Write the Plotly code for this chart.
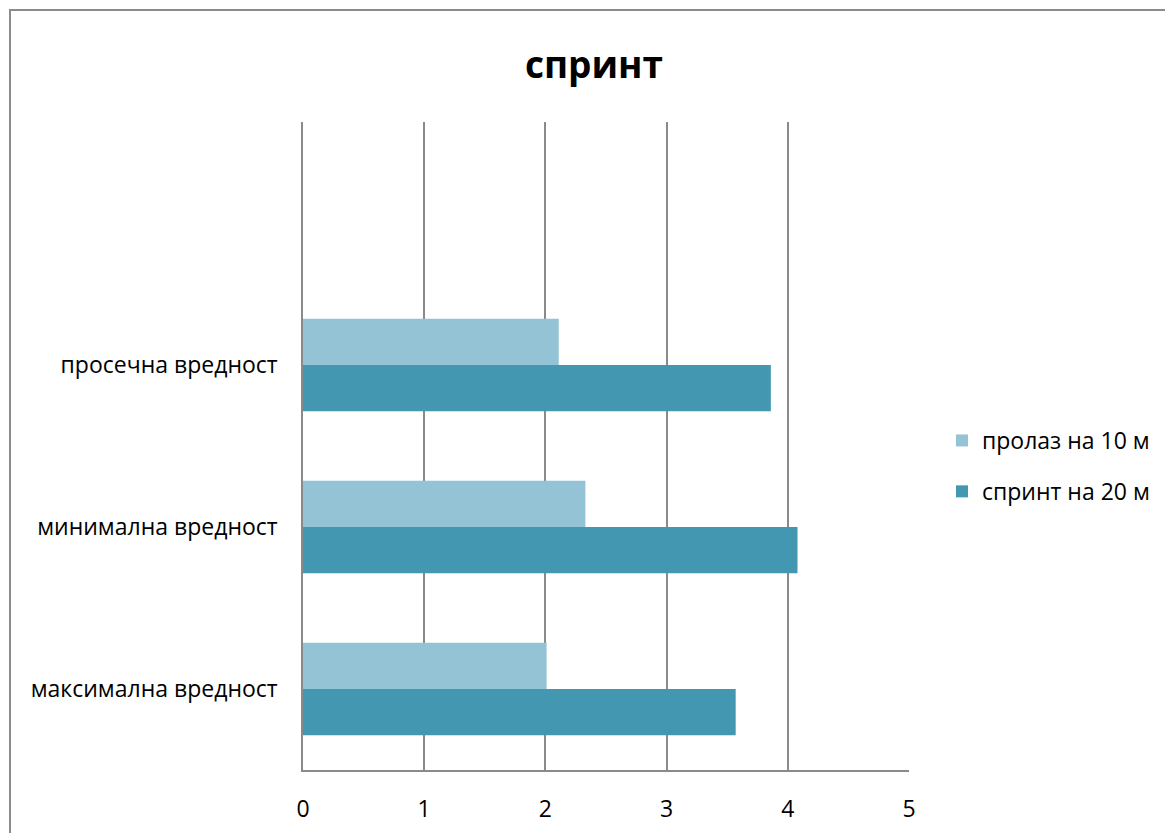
import plotly.graph_objects as go

# Sprint test results (seconds)
categories = ["максимална вредност", "минимална вредност", "просечна вредност"]
split_10m = [2.01, 2.33, 2.11]
sprint_20m = [3.57, 4.08, 3.86]
series_names = ["пролаз на 10 м", "спринт на 20 м"]
x_ticks = [0, 1, 2, 3, 4, 5]

light = "#93C3D5"
dark = "#4397B0"
grid = "#8a8a8a"
font_family = "Open Sans, Liberation Sans, sans-serif"
fs = 23

fig = go.Figure()
# Dark series first so it sits below the light one inside each group
fig.add_trace(go.Bar(
    y=categories, x=sprint_20m, name=series_names[1], orientation="h",
    marker=dict(color=dark, line=dict(width=0)), legendrank=2, legendgroup="b",
))
fig.add_trace(go.Bar(
    y=categories, x=split_10m, name=series_names[0], orientation="h",
    marker=dict(color=light, line=dict(width=0)), legendrank=1, legendgroup="a",
))

W, H = 1165, 833
L, R, T, B = 303, 256, 122, 63
pw, ph = W - L - R, H - T - B


def px(xp):
    return (xp - L) / pw


def py(yp):
    return (H - B - yp) / ph


fig.update_layout(
    width=W, height=H,
    margin=dict(l=L, r=R, t=T, b=B, pad=0, autoexpand=False),
    paper_bgcolor="white", plot_bgcolor="white",
    font=dict(family=font_family, size=fs, color="#000000"),
    barmode="group", bargap=0.43, bargroupgap=0,
    title=dict(text="<b>спринт</b>", xref="container", x=594 / W, xanchor="center",
               yref="container", y=1 - 65 / H, yanchor="middle",
               font=dict(size=37, family=font_family, color="#000000")),
    xaxis=dict(
        range=[0, 5], tickvals=x_ticks, showgrid=True, gridcolor=grid, gridwidth=1.5,
        zeroline=False, showline=True, linecolor=grid, linewidth=1.5,
        ticks="", ticklabelstandoff=18, tickfont=dict(size=fs),
        fixedrange=True,
    ),
    yaxis=dict(
        type="category", categoryorder="array", categoryarray=categories,
        range=[-0.5, 3.5], showgrid=False, zeroline=False,
        showline=True, linecolor=grid, linewidth=1.5, ticks="",
        ticklabelstandoff=19, tickfont=dict(size=fs),
    ),
    legend=dict(
        x=px(942), y=py(466), xanchor="left", yanchor="middle",
        font=dict(size=fs), itemwidth=30, tracegroupgap=18,
        traceorder="grouped",
        bgcolor="rgba(0,0,0,0)",
    ),
    shapes=[dict(
        type="rect", xref="paper", yref="paper",
        x0=px(10), x1=px(1175), y0=py(843), y1=py(10),
        line=dict(color="#8c8c8c", width=2), fillcolor="rgba(0,0,0,0)",
        layer="below",
    )],
)

fig.write_html("out.html")
